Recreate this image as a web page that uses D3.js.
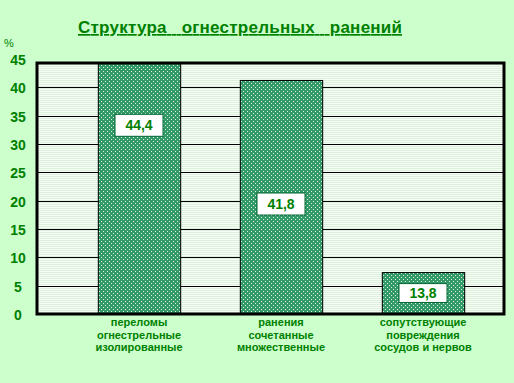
<!DOCTYPE html>
<html>
<head>
<meta charset="utf-8">
<script src="https://cdn.jsdelivr.net/npm/d3@7/dist/d3.min.js"></script>
<style>
  html, body { margin: 0; padding: 0; background: #ccffcc; }
  svg { display: block; }
</style>
</head>
<body>
<script>
// ---- data ----
const title = "Структура   огнестрельных   ранений";
const unitLabel = "%";
const categories = [
  ["переломы", "огнестрельные", "изолированные"],
  ["ранения", "сочетанные", "множественные"],
  ["сопутствующие", "повреждения", "сосудов и нервов"]
];
const valueLabels = ["44,4", "41,8", "13,8"];      // printed values
const barLevels = [44.4, 41.3, 7.4];                // bar tops as read on the drawn axis
const tickValues = [0, 5, 10, 15, 20, 25, 30, 35, 40, 45];

// ---- layout ----
const W = 514, H = 383;
const plot = { left: 37, right: 504, top: 63, bottom: 314 };
const green = "#008000";
const labelFrac = [0.75, 0.47, 0.5];

const svg = d3.select("body").append("svg").attr("width", W).attr("height", H);
svg.append("rect").attr("width", W).attr("height", H).attr("fill", "#ccffcc");

const defs = svg.append("defs");
const stripes = defs.append("pattern").attr("id", "stripes")
  .attr("patternUnits", "userSpaceOnUse").attr("width", 4).attr("height", 2);
stripes.append("rect").attr("width", 4).attr("height", 2).attr("fill", "#f6fcf6");
stripes.append("rect").attr("width", 4).attr("height", 1).attr("fill", "#dcf0dc");

const dots = defs.append("pattern").attr("id", "dots")
  .attr("patternUnits", "userSpaceOnUse").attr("width", 4).attr("height", 4);
dots.append("rect").attr("width", 4).attr("height", 4).attr("fill", "#339966");
dots.append("rect").attr("x", 1).attr("y", 1).attr("width", 1).attr("height", 1).attr("fill", "#d8f0e4");
dots.append("rect").attr("x", 3).attr("y", 3).attr("width", 1).attr("height", 1).attr("fill", "#d8f0e4");

const y = d3.scaleLinear().domain([0, 45]).range([plot.bottom, 59]);
const x = d3.scaleBand().domain(d3.range(categories.length))
  .range([68, 494]).paddingInner(0.42).paddingOuter(0.21);

// plot background
svg.append("rect")
  .attr("x", plot.left).attr("y", plot.top)
  .attr("width", plot.right - plot.left).attr("height", plot.bottom - plot.top)
  .attr("fill", "url(#stripes)");

// gridlines
svg.append("g").selectAll("line")
  .data(tickValues.filter(v => v > 0 && v < 45))
  .join("line")
  .attr("x1", plot.left).attr("x2", plot.right)
  .attr("y1", d => Math.round(y(d)) + 0.5).attr("y2", d => Math.round(y(d)) + 0.5)
  .attr("stroke", "#000").attr("stroke-width", 1);

// bars
svg.append("g").selectAll("rect")
  .data(barLevels)
  .join("rect")
  .attr("x", (d, i) => x(i) + 0.5)
  .attr("y", d => Math.max(plot.top, y(d)) + 0.5)
  .attr("width", x.bandwidth())
  .attr("height", d => plot.bottom - Math.max(plot.top, y(d)))
  .attr("fill", "url(#dots)")
  .attr("stroke", "#000").attr("stroke-width", 1);

// value label boxes
const lab = svg.append("g").selectAll("g")
  .data(barLevels)
  .join("g")
  .attr("transform", (d, i) => {
    const cx = x(i) + x.bandwidth() / 2;
    const cy = y(d * labelFrac[i]);
    return `translate(${cx},${cy})`;
  });
lab.append("rect")
  .attr("x", -24).attr("width", 48)
  .attr("y", (d) => -Math.min(22, (plot.bottom - y(d)) * 0.45) / 2)
  .attr("height", (d) => Math.min(22, (plot.bottom - y(d)) * 0.45))
  .attr("fill", "#fff").attr("stroke", "#006633").attr("stroke-width", 1);
lab.append("text")
  .attr("text-anchor", "middle").attr("dy", "0.36em")
  .attr("font-family", "'Liberation Sans', Arial, sans-serif")
  .attr("font-weight", "bold").attr("font-size", 14)
  .attr("fill", green)
  .text((d, i) => valueLabels[i]);

// frame
svg.append("rect")
  .attr("x", plot.left).attr("y", plot.top)
  .attr("width", plot.right - plot.left).attr("height", plot.bottom - plot.top)
  .attr("fill", "none").attr("stroke", "#000").attr("stroke-width", 3);

// y tick labels
svg.append("g").selectAll("text")
  .data(tickValues)
  .join("text")
  .attr("x", 18)
  .attr("y", d => y(d) + 1)
  .attr("dy", "0.36em")
  .attr("text-anchor", "middle")
  .attr("font-family", "'Liberation Sans Narrow', 'Arial Narrow', sans-serif")
  .attr("font-weight", "bold").attr("font-size", 14)
  .attr("fill", green)
  .text(d => d);

svg.append("text")
  .attr("x", 4).attr("y", 47)
  .attr("font-family", "'Liberation Sans Narrow', 'Arial Narrow', sans-serif")
  .attr("font-size", 11).attr("fill", green)
  .text(unitLabel);

// category labels
const cat = svg.append("g").selectAll("text")
  .data(categories)
  .join("text")
  .attr("text-anchor", "middle")
  .attr("font-family", "'Liberation Sans', Arial, sans-serif")
  .attr("font-weight", "bold").attr("font-size", 11)
  .attr("fill", green)
  .attr("transform", (d, i) => `translate(${x(i) + x.bandwidth() / 2},326)`);
cat.selectAll("tspan")
  .data(d => d)
  .join("tspan")
  .attr("x", 0)
  .attr("dy", (d, j) => j === 0 ? 0 : 12.5)
  .text(d => d);

// title
svg.append("text")
  .attr("x", 78).attr("y", 33)
  .attr("font-family", "'Liberation Sans', Arial, sans-serif")
  .attr("font-weight", "bold").attr("font-size", 17)
  .attr("fill", green)
  .attr("text-decoration", "underline")
  .attr("textLength", 324).attr("lengthAdjust", "spacing")
  .style("white-space", "pre")
  .text(title);
</script>
</body>
</html>
